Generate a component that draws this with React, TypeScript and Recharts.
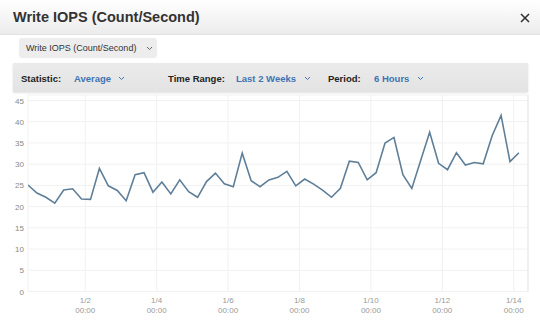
import { LineChart, Line, XAxis, YAxis, CartesianGrid, ReferenceLine } from 'recharts';

// 6-hour averages of write IOPS, last two weeks
const START_HOUR = -14.5; // hours from 1/1 00:00 of first sample
const PERIOD_HOURS = 6;
const iopsValues = [
  25.1, 23.2, 22.2, 20.8, 23.9, 24.2, 21.8, 21.7, 29.0, 24.9, 23.8, 21.4,
  27.5, 28.0, 23.4, 25.8, 23.0, 26.3, 23.5, 22.2, 25.9, 27.9, 25.4, 24.7,
  32.6, 26.1, 24.7, 26.3, 26.9, 28.3, 24.9, 26.5, 25.3, 23.9, 22.2, 24.3,
  30.7, 30.4, 26.3, 28.0, 35.0, 36.3, 27.5, 24.3, 30.9, 37.5, 30.2, 28.7,
  32.7, 29.8, 30.4, 30.1, 36.7, 41.5, 30.6, 32.7,
];
const xTicks = [24, 72, 120, 168, 216, 264, 312];
const xTickDates = ['1/2', '1/4', '1/6', '1/8', '1/10', '1/12', '1/14'];
const yTicks = [0, 5, 10, 15, 20, 25, 30, 35, 40, 45];

const X_DOMAIN: [number, number] = [-14.5, 321.6];
const Y_DOMAIN: [number, number] = [0, 46.3];

const chartData = iopsValues.map((v, i) => ({ t: START_HOUR + i * PERIOD_HOURS, value: v }));

const XTick = ({ x, y, payload }: any) => {
  const idx = xTicks.indexOf(payload.value);
  return (
    <g>
      <text x={x} y={y + 3} textAnchor="middle" fontSize={8} fill="#999">
        {xTickDates[idx]}
      </text>
      <text x={x} y={y + 13} textAnchor="middle" fontSize={8} fill="#999">
        00:00
      </text>
    </g>
  );
};

const YTick = ({ y, payload }: any) => (
  <text x={24} y={y + 3} textAnchor="end" fontSize={8} fill="#888">
    {payload.value}
  </text>
);

const Chevron = ({ x, y, color }: { x: number; y: number; color: string }) => (
  <svg style={{ position: 'absolute', left: x, top: y }} width={7} height={5}>
    <polyline points="1,1 3.5,3.5 6,1" fill="none" stroke={color} strokeWidth={1} />
  </svg>
);

const label = (text: string, left: number, color: string) => (
  <div
    style={{
      position: 'absolute',
      left,
      top: 73,
      fontSize: 9.5,
      fontWeight: 'bold',
      color,
      whiteSpace: 'nowrap',
      lineHeight: '11px',
    }}
  >
    {text}
  </div>
);

export default function App() {
  return (
    <div
      style={{
        position: 'fixed',
        left: 0,
        top: 0,
        width: 540,
        height: 327,
        overflow: 'hidden',
        background: '#fff',
        fontFamily: '"Liberation Sans", Arial, sans-serif',
      }}
    >
      {/* title bar */}
      <div
        style={{
          position: 'absolute',
          left: 0,
          top: 0,
          width: 540,
          height: 34,
          background: 'linear-gradient(#ffffff, #ececec)',
          borderBottom: '1px solid #e2e2e2',
        }}
      />
      <div
        style={{
          position: 'absolute',
          left: 13,
          top: 9,
          fontSize: 14.5,
          fontWeight: 'bold',
          color: '#333',
          whiteSpace: 'nowrap',
          lineHeight: '17px',
        }}
      >
        Write IOPS (Count/Second)
      </div>
      {/* close icon */}
      <svg style={{ position: 'absolute', left: 520, top: 13 }} width={10} height={10}>
        <line x1={1} y1={1} x2={9} y2={9} stroke="#333" strokeWidth={1.6} />
        <line x1={9} y1={1} x2={1} y2={9} stroke="#333" strokeWidth={1.6} />
      </svg>

      {/* metric selector */}
      <div
        style={{
          position: 'absolute',
          left: 19,
          top: 38,
          width: 138,
          height: 19,
          background: '#ededed',
          borderRadius: 3,
          boxShadow: '0 1px 1px rgba(0,0,0,0.08)',
        }}
      />
      <div style={{ position: 'absolute', left: 26, top: 43, fontSize: 9, color: '#333', whiteSpace: 'nowrap', lineHeight: '10px' }}>
        Write IOPS (Count/Second)
      </div>
      <Chevron x={146} y={46} color="#666" />

      {/* toolbar */}
      <div
        style={{
          position: 'absolute',
          left: 13,
          top: 63,
          width: 515,
          height: 29,
          background: 'linear-gradient(#ebebeb, #e3e3e3)',
          boxShadow: '0 1px 2px rgba(0,0,0,0.12)',
        }}
      />
      {label('Statistic:', 21, '#222')}
      {label('Average', 74, '#3f74b3')}
      <Chevron x={118} y={76} color="#3f74b3" />
      {label('Time Range:', 168, '#222')}
      {label('Last 2 Weeks', 236, '#3f74b3')}
      <Chevron x={304} y={76} color="#3f74b3" />
      {label('Period:', 328, '#222')}
      {label('6 Hours', 374, '#3f74b3')}
      <Chevron x={417} y={76} color="#3f74b3" />

      {/* chart */}
      <div style={{ position: 'absolute', left: 0, top: 0 }}>
        <LineChart width={540} height={327} data={chartData} margin={{ top: 95, right: 12, bottom: 0, left: 0 }}>
          <CartesianGrid stroke="#f1f1f1" strokeWidth={1} />
          <XAxis
            dataKey="t"
            type="number"
            domain={X_DOMAIN}
            ticks={xTicks}
            allowDataOverflow
            axisLine={false}
            tickLine={false}
            height={35.5}
            tick={<XTick />}
            interval={0}
          />
          <YAxis
            type="number"
            domain={Y_DOMAIN}
            ticks={yTicks}
            allowDataOverflow
            axisLine={false}
            tickLine={false}
            width={28}
            tick={<YTick />}
            interval={0}
          />
          <ReferenceLine x={X_DOMAIN[1]} stroke="#e8e8e8" ifOverflow="visible" />
          <Line
            type="linear"
            dataKey="value"
            stroke="#5f7f99"
            strokeWidth={1.6}
            dot={false}
            isAnimationActive={false}
          />
        </LineChart>
      </div>
    </div>
  );
}
